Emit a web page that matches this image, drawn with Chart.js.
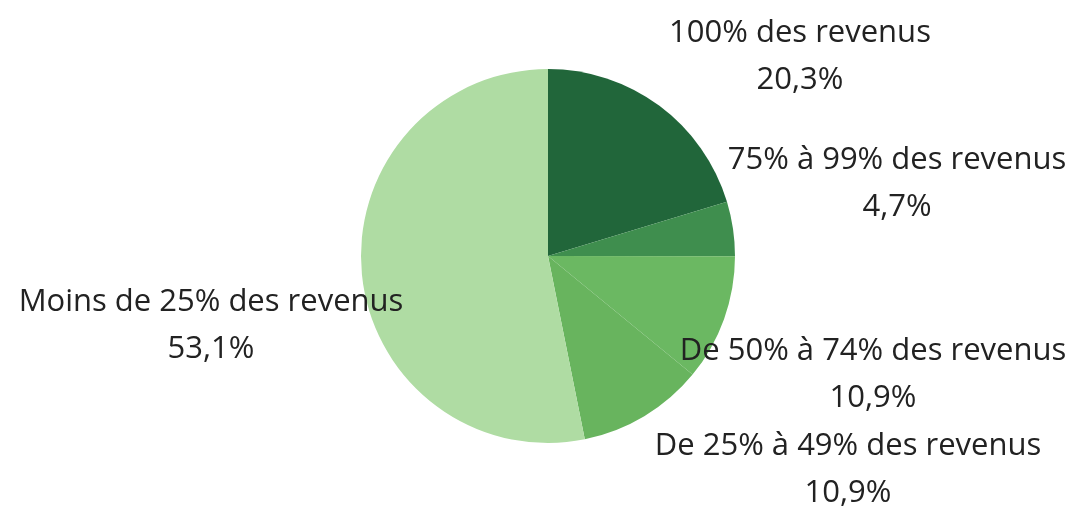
<!DOCTYPE html>
<html>
<head>
<meta charset="utf-8">
<script src="https://cdn.jsdelivr.net/npm/chart.js@4"></script>
<style>
html,body{margin:0;padding:0;background:#fff;}
#wrap{width:1078px;height:512px;position:relative;}
</style>
</head>
<body>
<div id="wrap"><canvas id="c" width="1078" height="512"></canvas></div>
<script>
const categories = ["100% des revenus", "75% à 99% des revenus", "De 50% à 74% des revenus", "De 25% à 49% des revenus", "Moins de 25% des revenus"];
const values = [20.3, 4.7, 10.9, 10.9, 53.1];
const valueLabels = ["20,3%", "4,7%", "10,9%", "10,9%", "53,1%"];
const colors = ["#21663a", "#3f8e4e", "#6bb862", "#68b45e", "#afdca3"];

// label anchor offsets relative to pie centre (style only)
const labelOffsets = [[252,-223],[349,-96],[325,95],[300,190],[-337,46]];

const labelPlugin = {
  id: 'sliceLabels',
  afterDatasetsDraw(chart) {
    const ctx = chart.ctx;
    const meta = chart.getDatasetMeta(0);
    ctx.save();
    ctx.font = '31px "Open Sans"';
    ctx.fillStyle = '#222222';
    ctx.textAlign = 'center';
    ctx.textBaseline = 'middle';
    meta.data.forEach((arc, i) => {
      const cx = arc.x + labelOffsets[i][0];
      const cy = arc.y + labelOffsets[i][1];
      ctx.fillText(categories[i], cx, cy);
      ctx.fillText(valueLabels[i], cx, cy + 47);
    });
    ctx.restore();
  }
};

new Chart(document.getElementById('c'), {
  type: 'pie',
  data: {
    labels: categories,
    datasets: [{
      data: values,
      backgroundColor: colors,
      borderWidth: 0
    }]
  },
  options: {
    responsive: false,
    animation: false,
    layout: { padding: { left: 361, right: 343, top: 69, bottom: 69 } },
    plugins: { legend: { display: false }, tooltip: { enabled: false } }
  },
  plugins: [labelPlugin]
});
</script>
</body>
</html>
